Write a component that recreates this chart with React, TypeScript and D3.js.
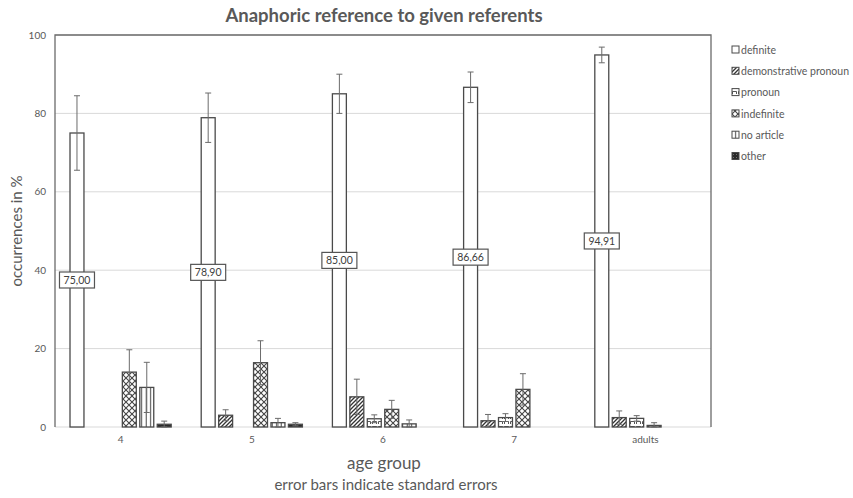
import React from "react";
import * as d3 from "d3";

// Age groups along the x axis
const categories = ["4", "5", "6", "7", "adults"];

// Referring expression types (one bar per type within each group)
const seriesNames = [
  "definite",
  "demonstrative pronoun",
  "pronoun",
  "indefinite",
  "no article",
  "other",
];

// Mean occurrence in % per series, in category order
const definite = [75.0, 78.9, 85.0, 86.66, 94.91];
const demonstrative = [0, 3.0, 7.7, 1.6, 2.4];
const pronoun = [0, 0, 2.1, 2.4, 2.2];
const indefinite = [14.0, 16.4, 4.5, 9.6, 0.4];
const noArticle = [10.1, 1.1, 0.8, 0, 0];
const other = [0.7, 0.7, 0, 0, 0];

// Standard errors per series, in category order
const definiteErr = [9.5, 6.3, 5.0, 3.9, 2.0];
const demonstrativeErr = [0, 1.4, 4.5, 1.6, 1.7];
const pronounErr = [0, 0, 1.0, 1.0, 0.7];
const indefiniteErr = [5.7, 5.6, 2.3, 4.0, 0.7];
const noArticleErr = [6.4, 1.1, 1.0, 0, 0];
const otherErr = [0.8, 0.4, 0, 0, 0];

const yTicks = [0, 20, 40, 60, 80, 100];

const seriesValues = [definite, demonstrative, pronoun, indefinite, noArticle, other];
const seriesErrors = [definiteErr, demonstrativeErr, pronounErr, indefiniteErr, noArticleErr, otherErr];
const fills = [
  "#ffffff",
  "url(#pat-demo)",
  "url(#pat-pron)",
  "url(#pat-indef)",
  "url(#pat-noart)",
  "url(#pat-other)",
];

const W = 853;
const H = 498;
const margin = { left: 55, right: 142, top: 35, bottom: 71 };
const font = "Lato, 'Open Sans', sans-serif";
const textColor = "#595959";
const barStroke = "#4a4a4a";

export default function App() {
  const x0 = d3
    .scaleBand<string>()
    .domain(categories)
    .range([margin.left, W - margin.right])
    .padding(0);
  const x1 = d3
    .scaleBand<string>()
    .domain(seriesNames)
    .range([0, x0.bandwidth()])
    .paddingInner(0.2)
    .paddingOuter(0.86);
  const y = d3
    .scaleLinear()
    .domain([0, 100])
    .range([H - margin.bottom, margin.top]);

  const bw = x1.bandwidth();
  const legendX = 732;
  const legendY0 = 50;
  const legendStep = 21.3;

  return (
    <svg
      width={W}
      height={H}
      style={{ position: "absolute", left: 0, top: 0, background: "#fff" }}
      fontFamily={font}
    >
      <defs>
        <pattern id="pat-demo" width="4" height="4" patternUnits="userSpaceOnUse">
          <rect width="4" height="4" fill="#fff" />
          <path d="M-1,1 l2,-2 M0,4 l4,-4 M3,5 l2,-2" stroke="#333" strokeWidth="1.3" />
        </pattern>
        <pattern id="pat-pron" width="6" height="5" patternUnits="userSpaceOnUse">
          <rect width="6" height="5" fill="#fff" />
          <path d="M0.5,4 v-2.5 h4 v2.5" stroke="#444" strokeWidth="0.9" fill="none" />
        </pattern>
        <pattern id="pat-indef" width="6" height="6" patternUnits="userSpaceOnUse">
          <rect width="6" height="6" fill="#fff" />
          <path d="M0,0 L6,6 M6,0 L0,6" stroke="#444" strokeWidth="1.1" />
        </pattern>
        <pattern id="pat-noart" width="4.5" height="4" patternUnits="userSpaceOnUse">
          <rect width="4.5" height="4" fill="#fff" />
          <path d="M2.2,0 v4" stroke="#444" strokeWidth="1" />
        </pattern>
        <pattern id="pat-other" width="3" height="3" patternUnits="userSpaceOnUse">
          <rect width="3" height="3" fill="#2b2b2b" />
          <rect x="1" y="1" width="0.8" height="0.8" fill="#999" />
        </pattern>
      </defs>

      {/* Title */}
      <text
        x={384}
        y={22}
        textAnchor="middle"
        fontSize={18.5}
        fontWeight="bold"
        fill={textColor}
      >
        Anaphoric reference to given referents
      </text>

      {/* Horizontal gridlines */}
      {yTicks.map((t) => (
        <line
          key={"g" + t}
          x1={margin.left}
          x2={W - margin.right}
          y1={y(t)}
          y2={y(t)}
          stroke="#d9d9d9"
          strokeWidth={1}
        />
      ))}

      {/* Y tick labels */}
      {yTicks.map((t) => (
        <text
          key={"yt" + t}
          x={46}
          y={y(t)}
          dy="0.35em"
          textAnchor="end"
          fontSize={10}
          fill={textColor}
        >
          {t}
        </text>
      ))}

      {/* X tick labels */}
      {categories.map((c) => (
        <text
          key={"xt" + c}
          x={(x0(c) ?? 0) + x0.bandwidth() / 2}
          y={y(0) + 16}
          textAnchor="middle"
          fontSize={10}
          fill={textColor}
        >
          {c}
        </text>
      ))}

      {/* Plot frame */}
      <path
        d={`M${margin.left},${y(0)} V${margin.top} H${W - margin.right} V${y(0)}`}
        fill="none"
        stroke="#6b6b6b"
        strokeWidth={1.3}
      />

      {/* Bars */}
      {seriesNames.map((s, si) =>
        categories.map((c, ci) => {
          const v = seriesValues[si][ci];
          if (v <= 0) return null;
          const bx = (x0(c) ?? 0) + (x1(s) ?? 0);
          return (
            <rect
              key={`b${si}-${ci}`}
              x={bx}
              y={y(v)}
              width={bw}
              height={y(0) - y(v)}
              fill={fills[si]}
              stroke={barStroke}
              strokeWidth={1.3}
            />
          );
        })
      )}

      {/* Error bars */}
      {seriesNames.map((s, si) =>
        categories.map((c, ci) => {
          const v = seriesValues[si][ci];
          const e = seriesErrors[si][ci];
          if (v <= 0 || e <= 0) return null;
          const cx = (x0(c) ?? 0) + (x1(s) ?? 0) + bw / 2;
          const lo = Math.max(0, v - e);
          const hi = v + e;
          return (
            <g key={`e${si}-${ci}`} stroke="#6b6b6b" strokeWidth={1}>
              <line x1={cx} x2={cx} y1={y(lo)} y2={y(hi)} />
              <line x1={cx - 3} x2={cx + 3} y1={y(hi)} y2={y(hi)} />
              <line x1={cx - 3} x2={cx + 3} y1={y(lo)} y2={y(lo)} />
            </g>
          );
        })
      )}

      {/* Value labels on the definite bars */}
      {categories.map((c, ci) => {
        const v = definite[ci];
        const cx = (x0(c) ?? 0) + (x1(seriesNames[0]) ?? 0) + bw / 2;
        const cy = y(v / 2);
        const label = v.toFixed(2).replace(".", ",");
        return (
          <g key={"lab" + ci}>
            <rect
              x={cx - 17.5}
              y={cy - 8}
              width={35}
              height={16}
              fill="#fff"
              stroke="#555"
              strokeWidth={1.2}
            />
            <text
              x={cx}
              y={cy}
              dy="0.35em"
              textAnchor="middle"
              fontSize={10.5}
              fill="#404040"
            >
              {label}
            </text>
          </g>
        );
      })}

      {/* Axis titles */}
      <text
        transform={`translate(22,${(margin.top + y(0)) / 2}) rotate(-90)`}
        textAnchor="middle"
        fontSize={15}
        fill={textColor}
      >
        occurrences in %
      </text>
      <text x={384} y={469} textAnchor="middle" fontSize={17} fill={textColor}>
        age group
      </text>
      <text x={386} y={490} textAnchor="middle" fontSize={15} fill={textColor}>
        error bars indicate standard errors
      </text>

      {/* Legend */}
      {seriesNames.map((s, i) => (
        <g key={"lg" + s}>
          <rect
            x={legendX}
            y={legendY0 + i * legendStep - 4}
            width={7}
            height={7}
            fill={fills[i]}
            stroke={barStroke}
            strokeWidth={1}
          />
          <text
            x={legendX + 9}
            y={legendY0 + i * legendStep}
            dy="0.35em"
            fontSize={10.5}
            fill={textColor}
          >
            {s}
          </text>
        </g>
      ))}
    </svg>
  );
}
